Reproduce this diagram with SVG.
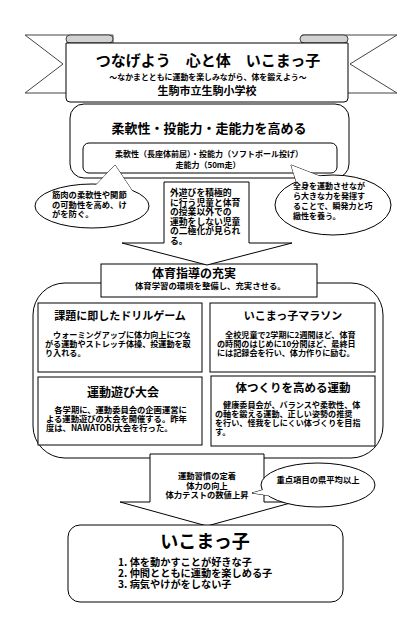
<svg xmlns="http://www.w3.org/2000/svg" width="417" height="633" viewBox="0 0 417 633">
<style>
text{font-family:'Noto Sans CJK JP','Noto Sans CJK SC',sans-serif;fill:#000;font-weight:bold}
.s{fill:#fff;stroke:#000;stroke-width:1}
.g{fill:#fff;stroke:#444;stroke-width:1}
.roll{fill:#d2d2d2;stroke:#444;stroke-width:1}
.nf{fill:#fff;stroke:none}
.c{text-anchor:middle}
.b8{font-size:8px}
.b82{font-size:8.1px}
.b85{font-size:8.3px}
.t11{font-size:11px}
</style>
<rect width="417" height="633" fill="#fff"/>

<g id="banner">
<polygon class="g" points="25,35 113,35 113,93 25,93 63,64"/>
<polygon class="g" points="302,35 397,35 350,64 397,93 302,93"/>
<path class="roll" d="M70,35 H109 a4,4 0 0 1 0,8 H70 a4,4 0 0 1 0,-8 Z"/>
<path class="roll" d="M304,35 H344 a4,4 0 0 1 0,8 H304 a4,4 0 0 1 0,-8 Z"/>
<path class="s" d="M66,43 H348 V98 Q348,102 344,102 H70 Q66,102 66,98 Z"/>
<text class="c" x="208" y="66" font-size="15">つなげよう　心と体　いこまっ子</text>
<text class="c" x="208" y="80" font-size="7.9">～なかまとともに運動を楽しみながら、体を鍛えよう～</text>
<text class="c" x="207" y="95" font-size="11">生駒市立生駒小学校</text>
</g>

<g id="goal">
<rect class="s" x="70" y="104" width="279" height="74" rx="14"/>
<text class="c" x="209" y="133" font-size="13">柔軟性・投能力・走能力を高める</text>
<rect class="s" x="83" y="143" width="254" height="30" rx="6"/>
<text class="c b8" x="209" y="157">柔軟性（長座体前屈）・投能力（ソフトボール投げ）<tspan x="208" dy="11">走能力（50m走）</tspan></text>
</g>

<g id="bubble-left">
<polyline class="s" points="95,186 115,165 133,192"/>
<ellipse class="s" cx="92" cy="206" rx="57" ry="22"/>
<polygon class="nf" points="95,186 115,165 133,192"/>
<text class="b85" x="52" y="198">筋肉の柔軟性や関節<tspan x="52" dy="9.5">の可動性を高め、け</tspan><tspan x="52" dy="9.5">がを防ぐ。</tspan></text>
</g>

<g id="bubble-right">
<polyline class="s" points="297,184 291,165 322,177"/>
<ellipse class="s" cx="333" cy="205" rx="58" ry="30"/>
<polygon class="nf" points="297,184 291,165 322,177"/>
<text class="b8" x="293" y="189">全身を運動させなが<tspan x="293" dy="10">ら大きな力を発揮す</tspan><tspan x="293" dy="10">ることで、瞬発力と巧</tspan><tspan x="293" dy="10">緻性を養う。</tspan></text>
</g>

<g id="container">
<rect class="s" x="33" y="283" width="350" height="175" rx="32"/>
</g>

<g id="box-drill">
<rect class="s" x="38" y="303" width="164" height="69"/>
<text class="c t11" x="120" y="320">課題に即したドリルゲーム</text>
<text class="b82" x="45" y="338">　ウォーミングアップに体力向上につな<tspan x="45" dy="9">がる運動やストレッチ体操、投運動を取</tspan><tspan x="45" dy="9">り入れる。</tspan></text>
</g>

<g id="box-marathon">
<rect class="s" x="210" y="303" width="165" height="69"/>
<text class="c t11" x="293" y="320">いこまっ子マラソン</text>
<text class="b82" x="217" y="338">　全校児童で2学期に2週間ほど、体育<tspan x="217" dy="9">の時間のはじめに10分間ほど、最終日</tspan><tspan x="217" dy="9">には記録会を行い、体力作りに励む。</tspan></text>
</g>

<g id="box-play">
<rect class="s" x="38" y="377" width="164" height="68"/>
<text class="c" x="123" y="397" font-size="12">運動遊び大会</text>
<text class="b85" x="46" y="413">　各学期に、運動委員会の企画運営に<tspan x="46" dy="9">よる運動遊びの大会を開催する。昨年</tspan><tspan x="46" dy="9">度は、NAWATOBI大会を行った。</tspan></text>
</g>

<g id="box-body">
<rect class="s" x="211" y="376" width="164" height="70"/>
<text class="c" x="293" y="392" font-size="11.5">体つくりを高める運動</text>
<text class="b82" x="215" y="408">　健康委員会が、バランスや柔軟性、体<tspan x="215" dy="9">の軸を鍛える運動、正しい姿勢の推奨</tspan><tspan x="215" dy="9">を行い、怪我をしにくい体づくりを目指</tspan><tspan x="215" dy="9">す。</tspan></text>
</g>

<g id="guidance">
<rect class="s" x="101" y="264" width="216" height="33"/>
<text x="152" y="278" font-size="12">体育指導の充実<tspan x="135" y="289" font-size="8.4">体育学習の環境を整備し、充実させる。</tspan></text>
</g>

<g id="arrow-problem">
<path class="s" d="M164,182 H249 V243 H292 L207,265 L122,243 H164 Z"/>
<text font-size="8.8" x="170" y="196">外遊びを積極的<tspan x="170" dy="9.5">に行う児童と体育</tspan><tspan x="170" dy="9.5">の授業以外での</tspan><tspan x="170" dy="9.5">運動をしない児童</tspan><tspan x="170" dy="9.5">の二極化が見られ</tspan><tspan x="170" dy="9.5">る。</tspan></text>
</g>

<g id="arrow-result">
<path class="s" d="M150,454 H264 V502 H294 L207,526 L120,502 H150 Z"/>
<text class="c b85" x="207" y="479">運動習慣の定着<tspan x="207" dy="9.5">体力の向上</tspan><tspan x="207" dy="9.5">体力テストの数値上昇</tspan></text>
</g>

<g id="bubble-target">
<polyline class="s" points="266,489 252,493 272,496"/>
<ellipse class="s" cx="318" cy="485" rx="57" ry="22"/>
<polygon class="nf" points="266,489 252,493 272,496"/>
<text class="c b85" x="318" y="483">重点項目の県平均以上</text>
</g>

<g id="goal-child">
<rect class="s" x="68" y="525" width="275" height="77" rx="12"/>
<text class="c" x="205" y="548" font-size="18">いこまっ子</text>
<text x="118" y="566" font-size="10.2">1. 体を動かすことが好きな子<tspan x="118" dy="11">2. 仲間とともに運動を楽しめる子</tspan><tspan x="118" dy="11">3. 病気やけがをしない子</tspan></text>
</g>

<g id="connectors"></g>
</svg>
